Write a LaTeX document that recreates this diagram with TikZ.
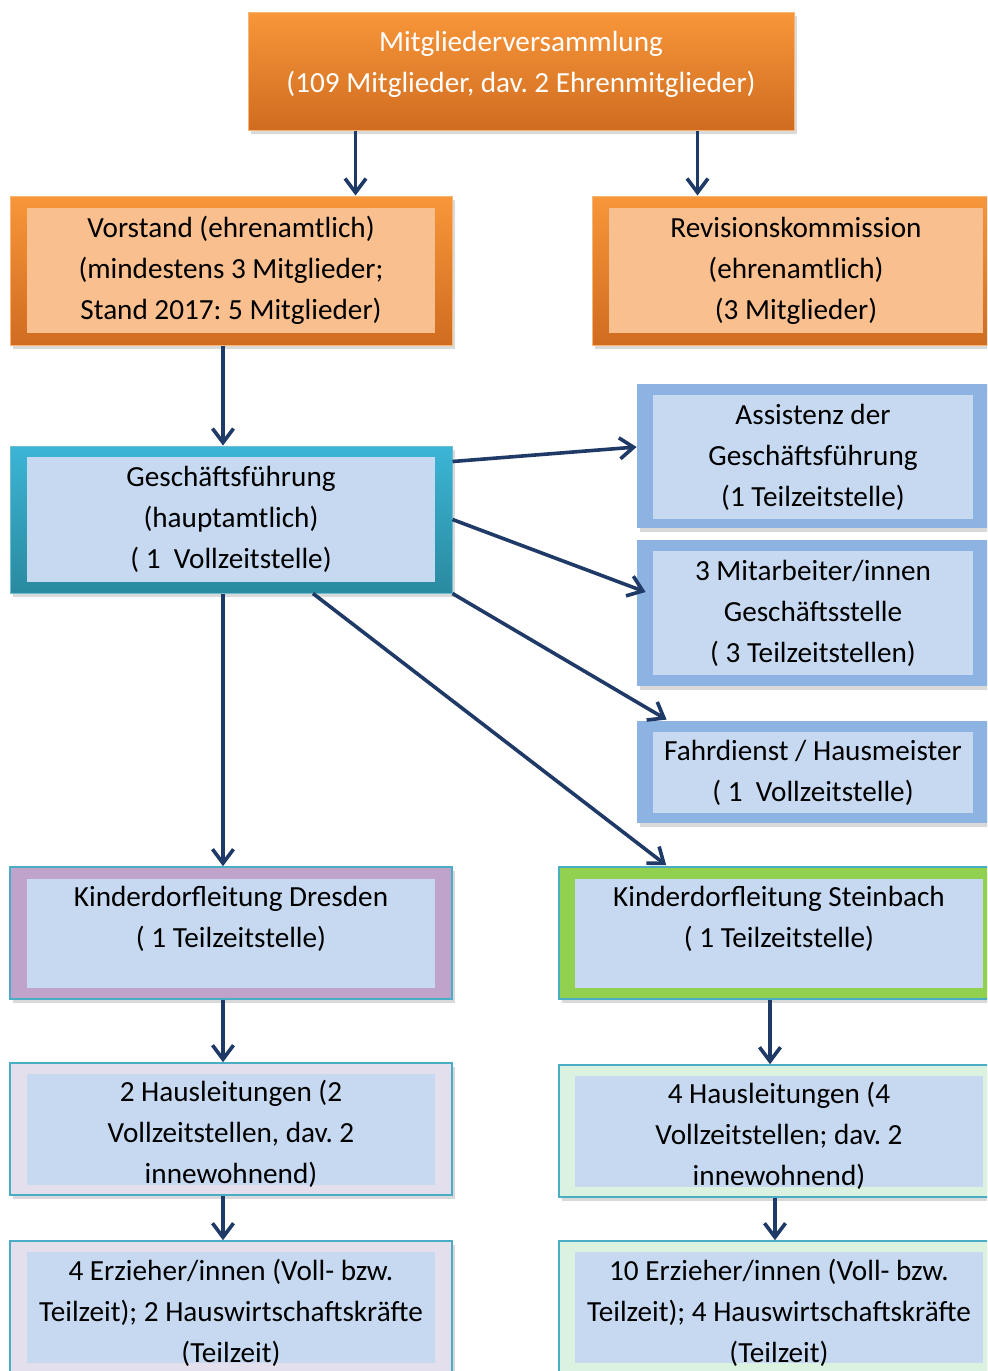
\documentclass[tikz,border=0pt]{standalone}
\usepackage{fontspec}
\setmainfont{Carlito}
\usetikzlibrary{arrows.meta,calc,shadows}
\frenchspacing

\definecolor{orTop}{HTML}{F8963A}
\definecolor{orBot}{HTML}{D06C20}
\definecolor{orIn}{HTML}{F9BF8F}
\definecolor{tealTop}{HTML}{3CB5D6}
\definecolor{tealBot}{HTML}{2A8A9F}
\definecolor{tealLine}{HTML}{4BACC6}
\definecolor{blueRim}{HTML}{8DB3E2}
\definecolor{blueIn}{HTML}{C6D9F1}
\definecolor{lilaRim}{HTML}{C0A3CB}
\definecolor{greenRim}{HTML}{92D050}
\definecolor{lavender}{HTML}{E4DFEC}
\definecolor{mint}{HTML}{DAF2DF}
\definecolor{navy}{HTML}{1F3A66}

\newcommand{\boxfont}{\fontsize{14.6}{20.5}\selectfont}

\tikzset{
  box/.style={rectangle, inner sep=0pt},
  shadowed/.style={drop shadow={shadow xshift=1.5pt, shadow yshift=-2pt, opacity=.3}},
  lbl/.style={align=center, font=\boxfont, inner sep=0pt},
  orangebox/.style={box, shadowed, top color=orTop, bottom color=orBot, draw=orTop!70, line width=.5pt},
  tealbox/.style={box, shadowed, top color=tealTop, bottom color=tealBot, draw=tealLine!80, line width=.5pt},
  bluebox/.style={box, shadowed, fill=blueRim},
  lilabox/.style={box, shadowed, fill=lilaRim, draw=tealLine, line width=.8pt},
  greenbox/.style={box, shadowed, fill=greenRim, draw=tealLine, line width=.8pt},
  lavbox/.style={box, shadowed, fill=lavender, draw=tealLine, line width=.8pt},
  mintbox/.style={box, shadowed, fill=mint, draw=tealLine, line width=.8pt},
  orangein/.style={box, lbl, fill=orIn},
  bluein/.style={box, lbl, fill=blueIn},
  conn/.style={draw=navy, line width=1.8pt, -{Straight Barb[length=7pt,width=10.5pt]}},
}

\begin{document}
\begin{tikzpicture}[x=0.5pt,y=-0.5pt]
  \useasboundingbox (0,0) rectangle (987,1371);
  \clip (0,0) rectangle (987,1371);

  % Mitgliederversammlung
  \node[orangebox, minimum width=273pt, minimum height=59pt] (mv) at (521,71) {};
  \node[lbl, text=white] (mv-txt) at ($(mv.center)+(0,-6.5)$)
    {Mitgliederversammlung\\(109 Mitglieder, dav. 2 Ehrenmitglieder)};

  % Vorstand und Revision
  \node[orangebox, minimum width=221pt, minimum height=74.5pt] (vorst) at (231,270.5) {};
  \node[orangein, minimum width=204pt, minimum height=62.5pt] (vorst-in) at (vorst.center)
    {Vorstand (ehrenamtlich)\\(mindestens 3 Mitglieder;\\Stand 2017: 5 Mitglieder)};
  \node[orangebox, minimum width=204pt, minimum height=74.5pt] (rev) at (796,270.5) {};
  \node[orangein, minimum width=187pt, minimum height=62.5pt] (rev-in) at (rev.center)
    {Revisionskommission\\(ehrenamtlich)\\(3 Mitglieder)};

  % Geschaeftsfuehrung
  \node[tealbox, minimum width=221pt, minimum height=73.5pt] (gf) at (231,519.5) {};
  \node[bluein, minimum width=204pt, minimum height=62.5pt] (gf-in) at (gf.center)
    {Geschäftsführung\\(hauptamtlich)\\( 1~~Vollzeitstelle)};

  % Stellen rechts
  \node[bluebox, minimum width=176.5pt, minimum height=72pt] (assist) at (813.5,456) {};
  \node[bluein, minimum width=160pt, minimum height=62pt] (assist-in) at (813,457)
    {Assistenz der\\Geschäftsführung\\(1 Teilzeitstelle)};
  \node[bluebox, minimum width=176.5pt, minimum height=73pt] (mitarb) at (813.5,613) {};
  \node[bluein, minimum width=160pt, minimum height=62pt] (mitarb-in) at (813,613)
    {3 Mitarbeiter/innen\\Geschäftsstelle\\( 3 Teilzeitstellen)};
  \node[bluebox, minimum width=176.5pt, minimum height=51pt] (fahr) at (813.5,772) {};
  \node[bluein, minimum width=160pt, minimum height=40.5pt] (fahr-in) at (813,772.5)
    {Fahrdienst / Hausmeister\\( 1~~Vollzeitstelle)};

  % Kinderdoerfer
  \node[lilabox, minimum width=221pt, minimum height=66pt] (dres) at (231,933) {};
  \node[bluein, minimum width=204pt, minimum height=54.5pt] (dres-in) at (231,933.5) {};
  \node[lbl] (dres-txt) at ($(dres-in.center)+(0,-15)$)
    {Kinderdorfleitung Dresden\\( 1 Teilzeitstelle)};
  \node[greenbox, minimum width=220.5pt, minimum height=66pt] (stein) at (779.5,933) {};
  \node[bluein, minimum width=204pt, minimum height=54.5pt] (stein-in) at (779,933.5) {};
  \node[lbl] (stein-txt) at ($(stein-in.center)+(0,-15)$)
    {Kinderdorfleitung Steinbach\\( 1 Teilzeitstelle)};

  % Hausleitungen
  \node[lavbox, minimum width=221pt, minimum height=66pt] (haus2) at (231,1129) {};
  \node[bluein, minimum width=204pt, minimum height=55.5pt] (haus2-in) at (231,1129.5) {};
  \node[lbl] (haus2-txt) at ($(haus2-in.center)+(0,4)$)
    {2 Hausleitungen (2\\Vollzeitstellen, dav. 2\\innewohnend)};
  \node[mintbox, minimum width=220.5pt, minimum height=66pt] (haus4) at (779.5,1131) {};
  \node[bluein, minimum width=204pt, minimum height=55.5pt] (haus4-in) at (779,1131.5) {};
  \node[lbl] (haus4-txt) at ($(haus4-in.center)+(0,4)$)
    {4 Hausleitungen (4\\Vollzeitstellen; dav. 2\\innewohnend)};

  % Erzieher
  \node[lavbox, minimum width=221pt, minimum height=72pt] (erz4) at (231,1313) {};
  \node[bluein, minimum width=204pt, minimum height=55.5pt] (erz4-in) at (231,1307.5) {};
  \node[lbl] (erz4-txt) at ($(erz4-in.center)+(0,5)$)
    {4 Erzieher/innen (Voll- bzw.\\Teilzeit); 2 Hauswirtschaftskräfte\\(Teilzeit)};
  \node[mintbox, minimum width=220.5pt, minimum height=72pt] (erz10) at (779.5,1313) {};
  \node[bluein, minimum width=204pt, minimum height=55.5pt] (erz10-in) at (779,1307.5) {};
  \node[lbl] (erz10-txt) at ($(erz10-in.center)+(0,5)$)
    {10 Erzieher/innen (Voll- bzw.\\Teilzeit); 4 Hauswirtschaftskräfte\\(Teilzeit)};

  % Verbindungen
  \coordinate (mvL) at ($(mv.south west)+(108,0)$);
  \coordinate (mvR) at ($(mv.south east)+(-97,0)$);
  \draw[conn] (mvL) -- (mvL |- vorst.north);
  \draw[conn] (mvR) -- (mvR |- rev.north);
  \draw[conn] ([xshift=-4pt]vorst.south) -- ([xshift=-4pt]gf.north);
  \draw[conn] ($(gf.north east)+(0,16)$) -- ($(assist.west)+(0,-9)$);
  \draw[conn] (gf.east) -- ($(mitarb.west)+(9,-21)$);
  \draw[conn] (gf.south east) -- ($(fahr.north west)+(30,-1)$);
  \draw[conn] ($(gf.south)+(82,0)$) -- ($(stein.north west)+(108,-1)$);
  \draw[conn] ([xshift=-4pt]gf.south) -- ([xshift=-4pt]dres.north);
  \draw[conn] ([xshift=-4pt]dres.south) -- ([xshift=-4pt]haus2.north);
  \draw[conn] ([xshift=-4.75pt]stein.south) -- ([xshift=-4.75pt]haus4.north);
  \draw[conn] ([xshift=-4pt]haus2.south) -- ([xshift=-4pt]erz4.north);
  \draw[conn] ([xshift=-2.25pt]haus4.south) -- ([xshift=-2.25pt]erz10.north);
\end{tikzpicture}
\end{document}
